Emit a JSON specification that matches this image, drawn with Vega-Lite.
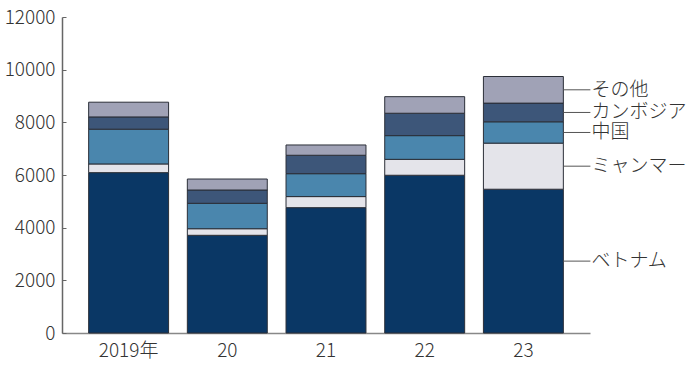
{
  "$schema": "https://vega.github.io/schema/vega-lite/v6.json",
  "width": 528,
  "height": 316,
  "autosize": {"type": "none"},
  "padding": {"left": 62, "top": 17, "right": 100, "bottom": 55},
  "background": "white",
  "config": {"view": {"stroke": null}},
  "data": {
    "values": [
      {"year": "2019年", "country": "ベトナム", "value": 6090},
      {"year": "2019年", "country": "ミャンマー", "value": 330},
      {"year": "2019年", "country": "中国", "value": 1320},
      {"year": "2019年", "country": "カンボジア", "value": 465},
      {"year": "2019年", "country": "その他", "value": 560},
      {"year": "20", "country": "ベトナム", "value": 3710},
      {"year": "20", "country": "ミャンマー", "value": 250},
      {"year": "20", "country": "中国", "value": 965},
      {"year": "20", "country": "カンボジア", "value": 505},
      {"year": "20", "country": "その他", "value": 417},
      {"year": "21", "country": "ベトナム", "value": 4760},
      {"year": "21", "country": "ミャンマー", "value": 420},
      {"year": "21", "country": "中国", "value": 870},
      {"year": "21", "country": "カンボジア", "value": 700},
      {"year": "21", "country": "その他", "value": 390},
      {"year": "22", "country": "ベトナム", "value": 5990},
      {"year": "22", "country": "ミャンマー", "value": 605},
      {"year": "22", "country": "中国", "value": 900},
      {"year": "22", "country": "カンボジア", "value": 850},
      {"year": "22", "country": "その他", "value": 630},
      {"year": "23", "country": "ベトナム", "value": 5460},
      {"year": "23", "country": "ミャンマー", "value": 1750},
      {"year": "23", "country": "中国", "value": 810},
      {"year": "23", "country": "カンボジア", "value": 710},
      {"year": "23", "country": "その他", "value": 1010}
    ]
  },
  "transform": [
    {"calculate": "indexof(['ベトナム','ミャンマー','中国','カンボジア','その他'], datum.country)", "as": "k"}
  ],
  "encoding": {
    "x": {
      "field": "year",
      "type": "ordinal",
      "sort": ["2019年", "20", "21", "22", "23"],
      "scale": {"paddingInner": 0.19, "paddingOuter": 0.27},
      "axis": {
        "title": null,
        "labelAngle": 0,
        "ticks": false,
        "domainColor": "#888888",
        "domainWidth": 1.5,
        "labelPadding": 8,
        "labelFontSize": 19,
        "labelFontWeight": 300,
        "labelColor": "#333333",
        "labelFont": "Noto Sans CJK JP"
      }
    }
  },
  "layer": [
    {
      "mark": {"type": "bar", "stroke": "#2b2f38", "strokeWidth": 1},
      "encoding": {
        "y": {
          "field": "value",
          "type": "quantitative",
          "stack": "zero",
          "scale": {"domain": [0, 12000]},
          "axis": {
            "values": [0, 2000, 4000, 6000, 8000, 10000, 12000],
            "format": "d",
            "grid": false,
            "title": null,
            "domainColor": "#666666",
            "domainWidth": 1.5,
            "tickColor": "#666666",
            "tickSize": -4,
            "labelPadding": 11,
            "labelFontSize": 19,
            "labelFontWeight": 300,
            "labelColor": "#333333",
            "labelFont": "Noto Sans CJK JP"
          }
        },
        "order": {"field": "k", "type": "quantitative", "sort": "ascending"},
        "color": {
          "field": "country",
          "type": "nominal",
          "scale": {
            "domain": ["ベトナム", "ミャンマー", "中国", "カンボジア", "その他"],
            "range": ["#0a3765", "#e4e4ea", "#4a86ad", "#3d5679", "#a0a2b6"]
          },
          "legend": null
        }
      }
    },
    {
      "transform": [
        {"stack": "value", "groupby": ["year"], "sort": [{"field": "k", "order": "ascending"}], "as": ["v0", "v1"]},
        {"calculate": "(datum.v0 + datum.v1) / 2", "as": "mid"},
        {"filter": "datum.year == '23'"}
      ],
      "mark": {"type": "rule", "xOffset": 40, "x2Offset": 67, "color": "#555555", "strokeWidth": 1},
      "encoding": {
        "y": {"field": "mid", "type": "quantitative"},
        "x2": {"field": "year"}
      }
    },
    {
      "transform": [
        {"stack": "value", "groupby": ["year"], "sort": [{"field": "k", "order": "ascending"}], "as": ["v0", "v1"]},
        {"calculate": "(datum.v0 + datum.v1) / 2", "as": "mid"},
        {"filter": "datum.year == '23'"}
      ],
      "mark": {"type": "text", "align": "left", "baseline": "middle", "dx": 68, "fontSize": 19, "fontWeight": 300, "font": "Noto Sans CJK JP", "color": "#333333"},
      "encoding": {
        "y": {"field": "mid", "type": "quantitative"},
        "text": {"field": "country"}
      }
    }
  ]
}
